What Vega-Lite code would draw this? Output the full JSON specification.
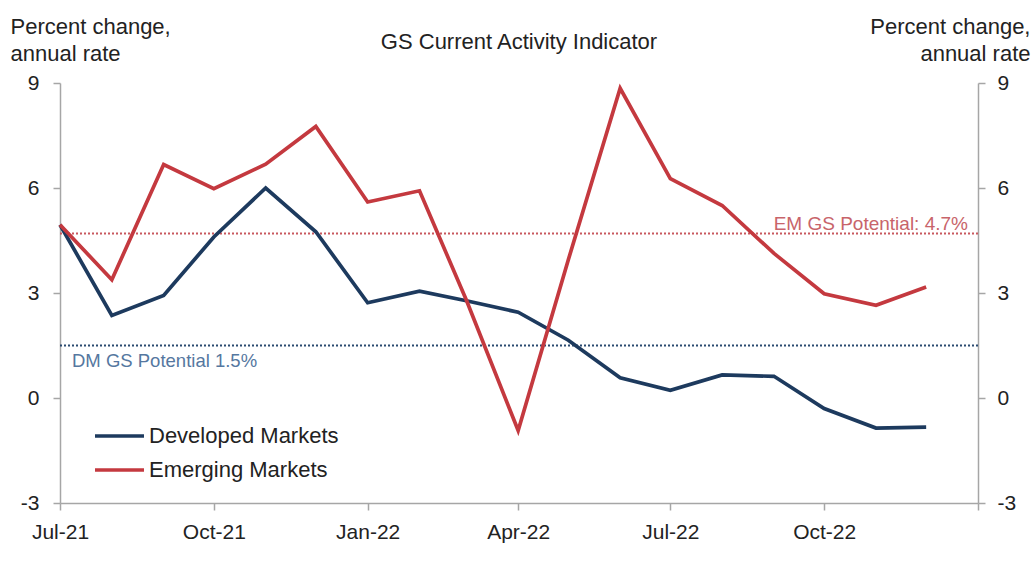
{
  "$schema": "https://vega.github.io/schema/vega-lite/v6.json",
  "width": 918,
  "height": 420,
  "autosize": "none",
  "padding": {"left": 60, "top": 83, "right": 57, "bottom": 73},
  "background": "white",
  "config": {
    "view": {"stroke": null},
    "font": "Liberation Sans",
    "axis": {
      "labelFont": "Liberation Sans",
      "labelFontSize": 21,
      "labelColor": "#222222",
      "titleFont": "Liberation Sans",
      "titleFontSize": 22,
      "titleFontWeight": "normal",
      "titleColor": "#222222",
      "domainColor": "#a6a6a6",
      "domainWidth": 1.5,
      "tickColor": "#a6a6a6",
      "tickWidth": 1.5,
      "tickSize": 7,
      "grid": false
    }
  },
  "title": {
    "text": "GS Current Activity Indicator",
    "font": "Liberation Sans",
    "fontSize": 22,
    "fontWeight": "normal",
    "color": "#222222",
    "anchor": "middle",
    "frame": "group",
    "baseline": "alphabetic",
    "offset": -56
  },
  "resolve": {"axis": {"y": "independent"}},
  "layer": [
    {
      "mark": {"type": "rule", "color": "#ababab", "strokeWidth": 1.5},
      "encoding": {
        "y": {"datum": 0, "type": "quantitative", "scale": {"domain": [-3, 9]},
          "axis": {"orient": "right", "values": [-3, 0, 3, 6, 9], "labelPadding": 12,
            "labelExpr": "'' + datum.value",
            "title": ["Percent change,", "annual rate"], "titleAngle": 0, "titleAlign": "right",
            "titleBaseline": "top", "titleX": 52, "titleY": -67, "titleLineHeight": 27}}
      }
    },
    {
      "data": {"values": [{"series": "DM", "potential": 1.5, "label": "DM GS Potential 1.5%"}]},
      "mark": {"type": "rule", "color": "#2a4a70", "strokeWidth": 2, "strokeDash": [2, 2]},
      "encoding": {
        "y": {"field": "potential", "type": "quantitative", "axis": null}
      }
    },
    {
      "data": {"values": [{"series": "DM", "potential": 1.5, "label": "DM GS Potential 1.5%"}]},
      "mark": {"type": "text", "color": "#5577a0", "font": "Liberation Sans", "fontSize": 18.5, "align": "left", "baseline": "top", "dx": 12, "dy": 6},
      "encoding": {
        "x": {"datum": {"year": 2021, "month": 7, "date": 1}, "type": "temporal"},
        "y": {"field": "potential", "type": "quantitative", "axis": null},
        "text": {"field": "label"}
      }
    },
    {
      "data": {"values": [{"series": "EM", "potential": 4.7, "label": "EM GS Potential: 4.7%"}]},
      "mark": {"type": "rule", "color": "#c8585e", "strokeWidth": 2, "strokeDash": [2, 2]},
      "encoding": {
        "y": {"field": "potential", "type": "quantitative", "axis": null}
      }
    },
    {
      "data": {"values": [{"series": "EM", "potential": 4.7, "label": "EM GS Potential: 4.7%"}]},
      "mark": {"type": "text", "color": "#c8646a", "font": "Liberation Sans", "fontSize": 19, "align": "right", "baseline": "alphabetic", "dx": -10, "dy": -4},
      "encoding": {
        "x": {"datum": {"year": 2023, "month": 1, "date": 1}, "type": "temporal"},
        "y": {"field": "potential", "type": "quantitative", "axis": null},
        "text": {"field": "label"}
      }
    },
    {
      "data": {
        "values": [
          {"date": "2021-07-01", "series": "Developed Markets", "value": 4.95},
          {"date": "2021-08-01", "series": "Developed Markets", "value": 2.36},
          {"date": "2021-09-01", "series": "Developed Markets", "value": 2.93},
          {"date": "2021-10-01", "series": "Developed Markets", "value": 4.6},
          {"date": "2021-11-01", "series": "Developed Markets", "value": 6.0},
          {"date": "2021-12-01", "series": "Developed Markets", "value": 4.75},
          {"date": "2022-01-01", "series": "Developed Markets", "value": 2.72},
          {"date": "2022-02-01", "series": "Developed Markets", "value": 3.05},
          {"date": "2022-03-01", "series": "Developed Markets", "value": 2.78},
          {"date": "2022-04-01", "series": "Developed Markets", "value": 2.45},
          {"date": "2022-05-01", "series": "Developed Markets", "value": 1.65},
          {"date": "2022-06-01", "series": "Developed Markets", "value": 0.58},
          {"date": "2022-07-01", "series": "Developed Markets", "value": 0.22},
          {"date": "2022-08-01", "series": "Developed Markets", "value": 0.66},
          {"date": "2022-09-01", "series": "Developed Markets", "value": 0.62},
          {"date": "2022-10-01", "series": "Developed Markets", "value": -0.3},
          {"date": "2022-11-01", "series": "Developed Markets", "value": -0.86},
          {"date": "2022-12-01", "series": "Developed Markets", "value": -0.83},
          {"date": "2021-07-01", "series": "Emerging Markets", "value": 4.95},
          {"date": "2021-08-01", "series": "Emerging Markets", "value": 3.38},
          {"date": "2021-09-01", "series": "Emerging Markets", "value": 6.67},
          {"date": "2021-10-01", "series": "Emerging Markets", "value": 5.98},
          {"date": "2021-11-01", "series": "Emerging Markets", "value": 6.68},
          {"date": "2021-12-01", "series": "Emerging Markets", "value": 7.76},
          {"date": "2022-01-01", "series": "Emerging Markets", "value": 5.6},
          {"date": "2022-02-01", "series": "Emerging Markets", "value": 5.92},
          {"date": "2022-03-01", "series": "Emerging Markets", "value": 2.8},
          {"date": "2022-04-01", "series": "Emerging Markets", "value": -0.93},
          {"date": "2022-05-01", "series": "Emerging Markets", "value": 3.95},
          {"date": "2022-06-01", "series": "Emerging Markets", "value": 8.85},
          {"date": "2022-07-01", "series": "Emerging Markets", "value": 6.27},
          {"date": "2022-08-01", "series": "Emerging Markets", "value": 5.5},
          {"date": "2022-09-01", "series": "Emerging Markets", "value": 4.13},
          {"date": "2022-10-01", "series": "Emerging Markets", "value": 2.98},
          {"date": "2022-11-01", "series": "Emerging Markets", "value": 2.65},
          {"date": "2022-12-01", "series": "Emerging Markets", "value": 3.17}
        ],
        "format": {"parse": {"date": "date:'%Y-%m-%d'"}}
      },
      "mark": {"type": "line", "strokeWidth": 3.7, "strokeJoin": "miter", "strokeCap": "butt"},
      "encoding": {
        "x": {
          "field": "date", "type": "temporal",
          "scale": {"domain": [{"year": 2021, "month": 7, "date": 1}, {"year": 2023, "month": 1, "date": 1}]},
          "axis": {
            "title": null,
            "values": [
              {"year": 2021, "month": 7, "date": 1}, {"year": 2021, "month": 10, "date": 1},
              {"year": 2022, "month": 1, "date": 1}, {"year": 2022, "month": 4, "date": 1},
              {"year": 2022, "month": 7, "date": 1}, {"year": 2022, "month": 10, "date": 1},
              {"year": 2023, "month": 1, "date": 1}
            ],
            "format": "%b-%y",
            "labelExpr": "year(datum.value) >= 2023 ? '' : datum.label",
            "labelPadding": 11,
            "labelFlush": false,
            "labelOverlap": false
          }
        },
        "y": {
          "field": "value", "type": "quantitative",
          "axis": {"orient": "left", "values": [-3, 0, 3, 6, 9], "labelPadding": 14,
            "labelExpr": "'' + datum.value",
            "title": ["Percent change,", "annual rate"], "titleAngle": 0, "titleAlign": "left",
            "titleBaseline": "top", "titleX": -50, "titleY": -67, "titleLineHeight": 27}
        },
        "color": {
          "field": "series", "type": "nominal",
          "scale": {"domain": ["Developed Markets", "Emerging Markets"], "range": ["#1d3a5e", "#c4393f"]},
          "legend": {
            "orient": "none", "legendX": 33, "legendY": 336, "title": null,
            "symbolType": "stroke", "symbolSize": 2400, "symbolStrokeWidth": 3.5,
            "labelFont": "Liberation Sans", "labelFontSize": 22, "labelColor": "#222222",
            "labelOffset": 3, "labelLimit": 400, "rowPadding": 0, "clipHeight": 34, "padding": 0
          }
        }
      }
    }
  ]
}
